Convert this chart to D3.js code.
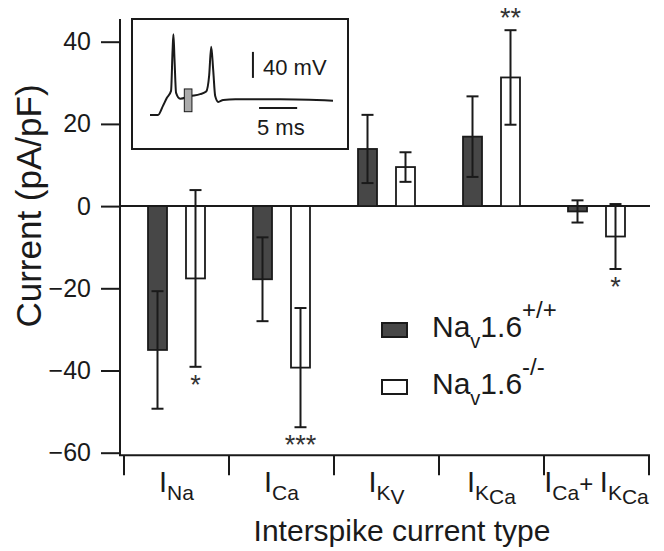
<!DOCTYPE html>
<html>
<head>
<meta charset="utf-8">
<script src="https://d3js.org/d3.v7.min.js"></script>
<style>
  body { margin: 0; background: #fff; }
  svg { display: block; font-family: "Liberation Sans", Arial, sans-serif; }
</style>
</head>
<body>
<div class="diagram"></div>
<script>
// categories and values (pA/pF)
var categories = ["INa", "ICa", "IKv", "IKCa", "ICa+IKCa"];
var wtMean = [-35.0, -17.8, 13.9, 16.9, -1.3];
var wtSem  = [14.3, 10.2, 8.3, 9.8, 2.7];
var koMean = [-17.6, -39.3, 9.5, 31.3, -7.4];
var koSem  = [21.5, 14.5, 3.6, 11.5, 7.9];
var koSig  = ["*", "***", "", "**", "*"];
var yTicks = [-60, -40, -20, 0, 20, 40];
var seriesNames = ["wt", "ko"];

// inset trace: time (ms) and membrane voltage (mV)
var traceT = [0, 1.05, 1.7, 2.2, 2.76, 2.96, 3.07, 3.22, 3.42, 3.95, 5.26, 6.58, 7.37, 7.76, 8.03, 8.29, 8.55, 8.95, 9.6, 11.2, 17.1, 24];
var traceV = [-78, -78, -64, -52, -41, 21, 46, 6, -44, -53, -49, -46, -42, -17, 27, -9, -49, -58, -55, -54, -54, -56];
var windowT = [4.5, 5.5];
var windowV = [-73, -38];

var w = 664, h = 551;
var dark = "#474747", ink = "#1a1a1a";

var svg = d3.select("div.diagram").append("svg")
    .attr("width", w).attr("height", h);

var x = d3.scaleBand().domain(categories).range([124, 649]).padding(0);
var xs = d3.scaleBand().domain(seriesNames).range([0, x.bandwidth()])
    .paddingInner(0.5).paddingOuter(0.632);
var y = d3.scaleLinear().domain([-60, 40]).range([452.7, 41.7]);

// y axis
var yAxis = d3.axisLeft(y).tickValues(yTicks).tickSize(19).tickPadding(10).tickSizeOuter(0);
var gy = svg.append("g").attr("transform", "translate(120,0)").call(yAxis);
gy.select(".domain").remove();
gy.selectAll(".tick line").attr("stroke", ink).attr("stroke-width", 2);
gy.selectAll(".tick text").attr("font-size", 25).attr("fill", ink)
    .attr("font-family", "Liberation Sans, Arial, sans-serif");
svg.append("line").attr("x1", 120).attr("x2", 120).attr("y1", 19).attr("y2", 456)
    .attr("stroke", ink).attr("stroke-width", 2);

// x axis line + category boundary ticks
var xBase = y(-60) + 2.5;
svg.append("line").attr("x1", 119).attr("x2", x.range()[1] + 1).attr("y1", xBase).attr("y2", xBase)
    .attr("stroke", ink).attr("stroke-width", 2);
var bounds = categories.map(function(c) { return x(c); }).concat([x.range()[1]]);
svg.selectAll("line.xt").data(bounds).enter().append("line")
    .attr("class", "xt")
    .attr("x1", function(d) { return d; }).attr("x2", function(d) { return d; })
    .attr("y1", xBase).attr("y2", xBase + 20)
    .attr("stroke", ink).attr("stroke-width", 2);

// zero line
svg.append("line").attr("x1", 120).attr("x2", 650).attr("y1", y(0)).attr("y2", y(0))
    .attr("stroke", ink).attr("stroke-width", 2);

// bars
var rows = [];
categories.forEach(function(c, i) {
    rows.push({cat: c, s: "wt", m: wtMean[i], e: wtSem[i], sig: ""});
    rows.push({cat: c, s: "ko", m: koMean[i], e: koSem[i], sig: koSig[i]});
});
function cx(d) { return x(d.cat) + xs(d.s) + xs.bandwidth() / 2; }

svg.selectAll("rect.bar").data(rows).enter().append("rect")
    .attr("class", "bar")
    .attr("x", function(d) { return x(d.cat) + xs(d.s); })
    .attr("width", xs.bandwidth())
    .attr("y", function(d) { return Math.min(y(d.m), y(0)); })
    .attr("height", function(d) { return Math.abs(y(d.m) - y(0)); })
    .attr("fill", function(d) { return d.s == "wt" ? dark : "#fff"; })
    .attr("stroke", ink).attr("stroke-width", 1.8);

// error bars
var eb = svg.selectAll("g.err").data(rows).enter().append("g").attr("class", "err")
    .attr("stroke", ink).attr("stroke-width", 2);
eb.append("line")
    .attr("x1", cx).attr("x2", cx)
    .attr("y1", function(d) { return y(d.m + d.e); })
    .attr("y2", function(d) { return y(d.m - d.e); });
[1, -1].forEach(function(k) {
    eb.append("line")
        .attr("x1", function(d) { return cx(d) - 6; })
        .attr("x2", function(d) { return cx(d) + 6; })
        .attr("y1", function(d) { return y(d.m + k * d.e); })
        .attr("y2", function(d) { return y(d.m + k * d.e); });
});

// significance stars
svg.selectAll("text.sig").data(rows.filter(function(d) { return d.sig; })).enter()
    .append("text").attr("class", "sig")
    .attr("x", cx)
    .attr("y", function(d) { return d.m < 0 ? y(d.m - d.e) + 27 : y(d.m + d.e) - 3; })
    .attr("text-anchor", "middle")
    .attr("font-size", 27).attr("fill", "#333")
    .text(function(d) { return d.sig; });

// category labels with subscripts
var labels = {
    "INa": [["I", 0], ["Na", 1]],
    "ICa": [["I", 0], ["Ca", 1]],
    "IKv": [["I", 0], ["K", 1], ["V", 2]],
    "IKCa": [["I", 0], ["K", 1], ["Ca", 2]],
    "ICa+IKCa": [["I", 0], ["Ca", 1], ["+ ", 3], ["I", 0], ["K", 1], ["Ca", 2]]
};
var lvl = {0: {fs: 29, off: 0}, 1: {fs: 21, off: 8}, 2: {fs: 21, off: 12}, 3: {fs: 24, off: 0}};
categories.forEach(function(c) {
    var t = svg.append("text")
        .attr("x", x(c) + x.bandwidth() / 2).attr("y", 492)
        .attr("text-anchor", "middle").attr("fill", ink);
    var cur = 0;
    labels[c].forEach(function(p) {
        var L = lvl[p[1]];
        t.append("tspan").attr("font-size", L.fs).attr("dy", L.off - cur).text(p[0]);
        cur = L.off;
    });
});

// axis titles
svg.append("text").attr("x", 402).attr("y", 541).attr("text-anchor", "middle")
    .attr("font-size", 30).attr("fill", ink).text("Interspike current type");
svg.append("text").attr("transform", "translate(41,206) rotate(-90)")
    .attr("text-anchor", "middle").attr("font-size", 35).attr("fill", ink)
    .text("Current (pA/pF)");

// legend
var legend = [
    {s: "wt", sup: "+/+", y: 337},
    {s: "ko", sup: "-/-", y: 394}
];
legend.forEach(function(d) {
    svg.append("rect").attr("x", 382).attr("y", d.y - 14).attr("width", 25).attr("height", 14)
        .attr("fill", d.s == "wt" ? dark : "#fff").attr("stroke", ink).attr("stroke-width", 2);
    var t = svg.append("text").attr("x", 432).attr("y", d.y).attr("font-size", 30).attr("fill", ink);
    t.append("tspan").text("Na");
    t.append("tspan").attr("font-size", 20).attr("dy", 11).text("v");
    t.append("tspan").attr("dy", -11).text("1.6");
    t.append("tspan").attr("font-size", 24).attr("dy", -19).text(d.sup);
});

// inset
var inset = svg.append("g");
inset.append("rect").attr("x", 132).attr("y", 19).attr("width", 216).attr("height", 130)
    .attr("fill", "#fff").attr("stroke", ink).attr("stroke-width", 2);
var tx = d3.scaleLinear().domain([0, 24]).range([150, 333]);
var vy = d3.scaleLinear().domain([-55, 45]).range([100, 35]);
var pts = traceT.map(function(t, i) { return [t, traceV[i]]; });
inset.append("path").datum(pts)
    .attr("d", d3.line().x(function(d) { return tx(d[0]); }).y(function(d) { return vy(d[1]); })
        .curve(d3.curveMonotoneX))
    .attr("fill", "none").attr("stroke", ink).attr("stroke-width", 2);
inset.append("rect")
    .attr("x", tx(windowT[0])).attr("width", tx(windowT[1]) - tx(windowT[0]))
    .attr("y", vy(windowV[1])).attr("height", vy(windowV[0]) - vy(windowV[1]))
    .attr("fill", "#aaa").attr("stroke", ink).attr("stroke-width", 1);
// scale bars: 40 mV, 5 ms
inset.append("line").attr("x1", tx(13.5)).attr("x2", tx(13.5)).attr("y1", vy(19)).attr("y2", vy(-21))
    .attr("stroke", ink).attr("stroke-width", 2);
inset.append("text").attr("x", 263).attr("y", 75).attr("font-size", 22).attr("fill", ink).text("40 mV");
inset.append("line").attr("x1", tx(14.3)).attr("x2", tx(19.3)).attr("y1", 108).attr("y2", 108)
    .attr("stroke", ink).attr("stroke-width", 2);
inset.append("text").attr("x", 257).attr("y", 135).attr("font-size", 22).attr("fill", ink).text("5 ms");
</script>
</body>
</html>
